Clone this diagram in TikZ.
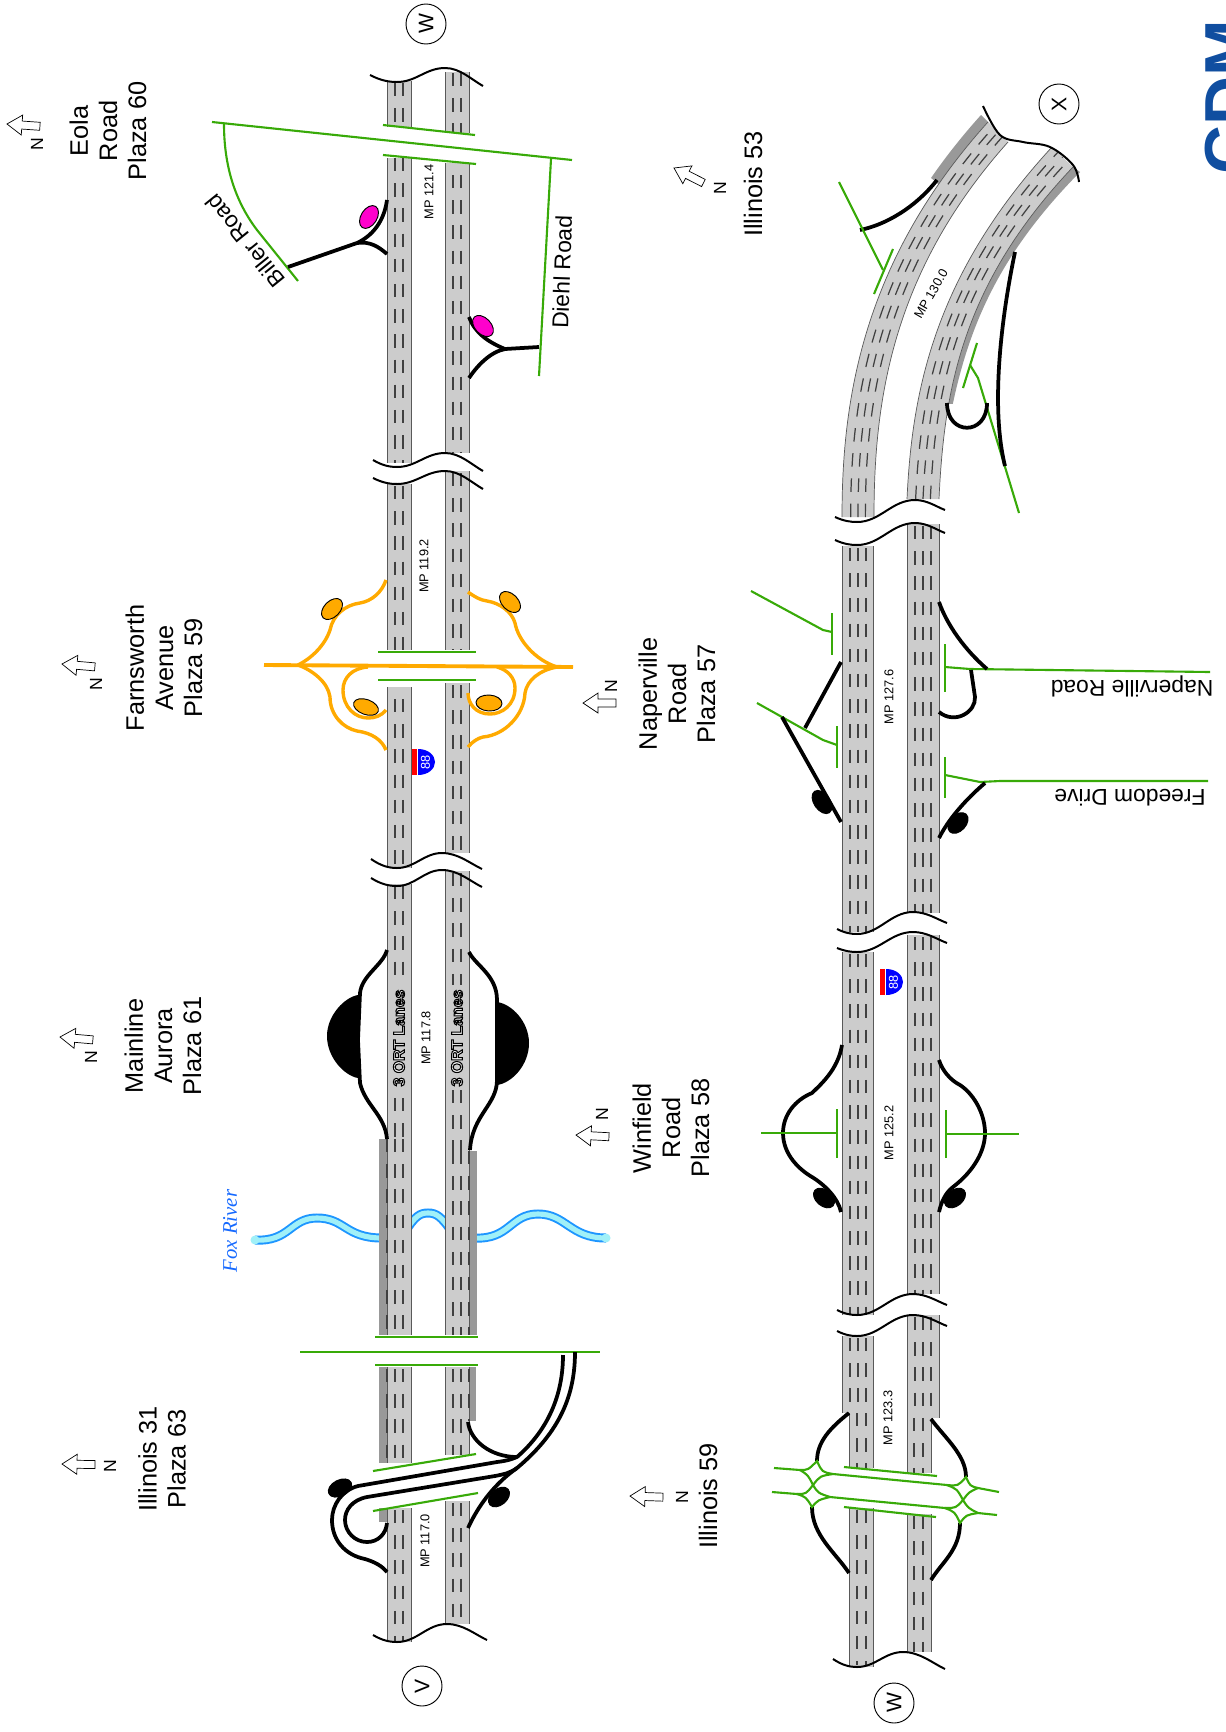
\documentclass[tikz,border=0pt]{standalone}
\usepackage{fontspec}
\setmainfont{Liberation Sans}
\newfontfamily\foxfont{Liberation Serif}
\usetikzlibrary{calc}
\definecolor{roadgray}{RGB}{204,204,204}
\definecolor{shouldergray}{RGB}{153,153,153}
\definecolor{grn}{RGB}{56,170,8}
\definecolor{org}{RGB}{255,170,0}
\definecolor{pnk}{RGB}{255,0,204}
\definecolor{rvblue}{RGB}{30,150,255}
\definecolor{rvcyan}{RGB}{160,240,248}
\definecolor{logoblue}{RGB}{16,78,160}
\tikzset{
  edge/.style={line width=0.6pt,draw=black!65},
  lane/.style={line width=1.05pt,draw=black!75,dash pattern=on 11.5pt off 10pt},
  brk/.style={line width=1.7pt,black},
  ramp/.style={line width=3.2pt,black,line join=round},
  oramp/.style={line width=2.9pt,org,line join=round},
  gline/.style={line width=1.8pt,grn},
  gthick/.style={line width=2.2pt,grn},
  lab/.style={font=\fontsize{21.6pt}{24.8pt}\selectfont,align=center,inner sep=0pt},
  rdlab/.style={font=\fontsize{19.5pt}{22pt}\selectfont,inner sep=0pt},
  mp/.style={font=\fontsize{10.9pt}{12pt}\selectfont,inner sep=0pt},
  nlab/.style={font=\fontsize{15pt}{17pt}\selectfont,inner sep=0pt,rotate=90},
  cnode/.style={circle,draw,line width=0.8pt,minimum size=1.2cm,inner sep=0pt,font=\fontsize{18pt}{20pt}\selectfont,rotate=90},
  ortbase/.style={font=\fontsize{13.5pt}{15pt}\selectfont\bfseries,inner sep=0pt,rotate=90,text=white},
}
\newcommand{\roadseg}[4]{%
  \fill[roadgray] (#1,#3) rectangle (#2,#4);
  \draw[edge] (#1,#3) -- (#1,#4) (#2,#3) -- (#2,#4);}
\newcommand{\lanes}[3]{%
  \foreach \lx in {#1} {\draw[lane] (\lx,#2) -- (\lx,#3);}}
\newcommand{\dkband}[4]{\fill[shouldergray] (#1,#3) rectangle (#2,#4);}
\newcommand{\wavebr}[8]{%
  \draw[brk] (#1,#2) .. controls ({#1+.4*(#3-#1)},{#2+.8*(#4-#2)}) and ({#3-.3*(#3-#1)},#4) .. (#3,#4)
    .. controls ({#3+.4*(#5-#3)},#4) and ({#5-.4*(#5-#3)},#6) .. (#5,#6)
    .. controls ({#5+.4*(#7-#5)},#6) and ({#7-.3*(#7-#5)},{#8-.35*(#8-#6)}) .. (#7,#8);}
\newcommand{\ovalshape}[6]{%
  \draw[#1,line width=0.8pt,shift={(#2,#3)},rotate=#6] (0,0) ellipse [x radius=#4*0.8536pt,y radius=#5*0.8536pt];}
\newcommand{\narrow}[3]{%
  \draw[line width=0.6pt,fill=white,shift={(#1,#2)},rotate=#3]
    (0,0) -- (15,10) -- (15,4) -- (33,4) -- (33,-4) -- (15,-4) -- (15,-10) -- cycle;}
\newcommand{\shield}[3]{%
  \fill[red] (#1-6,#2-13) rectangle (#1-1,#2+13);
  \fill[blue] (#1,#2-13) .. controls (#1+10,#2-13) and (#1+17,#2-7) .. (#1+17,#2)
     .. controls (#1+17,#2+7) and (#1+10,#2+13) .. (#1,#2+13) -- cycle;
  \node[mp,white,rotate=90] (#3) at (#1+7.5,#2) {88};}
% outlined text: white fill, black stroke, through the PDF text render mode
\newcommand{\outlinedtext}[1]{\special{pdf:code q 2 Tr 0.9 w 0 0 0 RG}#1\special{pdf:code Q}}
\newcommand{\ortlabel}[3]{%
  \node[ortbase] (#3) at (#1,#2) {\outlinedtext{3 ORT Lanes}};}
\begin{document}
\begin{tikzpicture}[x=0.03cm,y=-0.03cm]
\useasboundingbox (0,0) rectangle (1225,1732);
\fill[white] (0,0) rectangle (1225,1732);

%% Fox River
\foreach \c/\w in {rvblue/7.7pt,rvcyan/4.4pt}{
  \draw[\c,line width=\w] (255,1240) .. controls (290,1242) and (290,1218) .. (317,1218) .. controls (345,1218) and (345,1238) .. (382,1238);
  \draw[\c,line width=\w] (405,1232) .. controls (415,1216) and (420,1213) .. (428,1213) .. controls (436,1213) and (441,1216) .. (452,1232);
  \draw[\c,line width=\w] (474,1238) .. controls (510,1240) and (510,1214) .. (538,1214) .. controls (566,1214) and (570,1238) .. (606,1238);
}
\fill[rvcyan] (255,1240) circle (4.5);
\fill[rvcyan] (606,1238) circle (4.5);

%% Top row, carriageway A
\roadseg{387}{411}{81}{127}   \lanes{395,403}{83}{127}
\roadseg{387}{411}{158}{463}  \lanes{395,403}{158}{463}
\roadseg{387}{411}{484}{650}  \lanes{395,403}{486}{650}
\roadseg{387}{411}{687}{868}  \lanes{395,403}{699}{868}
\roadseg{387}{411}{884}{1139} \lanes{395,403}{886}{985} \lanes{395,403}{1098}{1139}
\dkband{379}{387}{1139}{1335}
\roadseg{387}{411}{1139}{1335} \lanes{387,395,403}{1139}{1335}
\dkband{379}{387}{1367}{1463}
\roadseg{387}{411}{1367}{1463} \lanes{387,395,403}{1369}{1463}
\dkband{379}{387}{1508}{1522}
\roadseg{387}{411}{1508}{1642} \lanes{395,403}{1510}{1642}

%% Top row, carriageway B
\roadseg{445}{469}{72}{133}   \lanes{453,461}{73}{133}
\roadseg{445}{469}{163}{453}  \lanes{453,461}{175}{453}
\roadseg{445}{469}{471}{650}  \lanes{453,461}{473}{650}
\roadseg{445}{469}{683}{853}  \lanes{453,461}{685}{853}
\roadseg{445}{469}{871}{1151} \lanes{453,461}{873}{985} \lanes{453,461}{1090}{1151}
\dkband{469}{477}{1151}{1335}
\roadseg{445}{469}{1151}{1335} \lanes{453,461,469}{1151}{1335}
\dkband{469}{476}{1367}{1421}
\roadseg{445}{469}{1367}{1455} \lanes{453,461}{1369}{1455} \lanes{469}{1369}{1421}
\roadseg{445}{469}{1501}{1624} \lanes{453,461}{1503}{1624}

%% ORT labels
\ortlabel{399}{1038}{orta}
\ortlabel{457}{1038}{ortb}

%% Top row waves
\wavebr{370}{75}{397}{82}{445}{68}{483}{86}
\wavebr{373}{460}{397}{467}{445}{453}{483}{471}
\wavebr{373}{478}{397}{484}{445}{471}{483}{489}
\wavebr{371}{859}{397}{868}{442}{853}{482}{869}
\wavebr{371}{878}{397}{886}{442}{870}{482}{887}
\wavebr{373}{1635}{397}{1642}{447}{1624}{487}{1640}

%% Eola overpass, Biller and Diehl
\draw[gline] (212,122) -- (572,160);
\draw[gline] (383,125) -- (475,135);
\draw[gline] (383,155) -- (476,164);
\draw[gline] (224,124) .. controls (224,160) and (232,197) .. (257,230) -- (298,281);
\draw[gline] (551,159) -- (539,376);
\draw[ramp] (288,267) -- (357,243);
\draw[ramp] (357,243) .. controls (372,236) and (384,222) .. (387,200);
\draw[ramp] (357,243) .. controls (370,241) and (379,247) .. (387,254);
\ovalshape{fill=pnk,draw=black}{369}{217}{12.5}{8}{58}
\draw[ramp] (539,347) -- (505,349);
\draw[ramp] (505,349) .. controls (488,342) and (475,333) .. (469,317);
\draw[ramp] (505,349) .. controls (490,352) and (477,366) .. (469,378);
\ovalshape{fill=pnk,draw=black}{483}{326}{12.5}{8}{-46}

%% Farnsworth
\draw[gline] (378,652) -- (476,652);
\draw[gline] (378,680) -- (476,680);
\draw[oramp,line width=3.3pt] (264,665) -- (573,667);
\draw[oramp] (386,580) .. controls (382,592) and (372,601) .. (360,603) .. controls (345,605) and (333,615) .. (330,630) .. controls (325,645) and (312,658) .. (298,665);
\draw[oramp] (468,592) .. controls (475,597) and (480,600) .. (487,601) .. controls (500,603) and (512,612) .. (515,623) .. controls (518,640) and (535,660) .. (557,667);
\draw[oramp] (298,665) .. controls (312,670) and (328,682) .. (330,697) .. controls (330,715) and (343,728) .. (357,731) .. controls (372,733) and (382,740) .. (386,750);
\draw[oramp] (557,667) .. controls (540,670) and (527,680) .. (525,693) .. controls (524,715) and (505,735) .. (483,737) .. controls (478,738) and (472,742) .. (468,747);
\draw[oramp] (368,667) .. controls (352,668) and (343,678) .. (343,690) .. controls (343,707) and (355,718) .. (368,718) .. controls (375,718) and (381,716) .. (386,710);
\draw[oramp] (497,667) .. controls (508,670) and (515,678) .. (515,688) .. controls (515,705) and (502,714) .. (490,714) .. controls (476,714) and (468,704) .. (468,693);
\ovalshape{fill=org,draw=black}{332}{609}{12.5}{8}{45}
\ovalshape{fill=org,draw=black}{510}{602}{12.5}{8}{-45}
\ovalshape{fill=org,draw=black}{366}{707}{13}{7.5}{-20}
\ovalshape{fill=org,draw=black}{489}{703}{13}{8}{-3}

%% Aurora
\fill (358,995) .. controls (345,997) and (327,1015) .. (327,1036) .. controls (327,1058) and (345,1076) .. (358,1078) -- cycle;
\fill (497,1002) .. controls (512,1004) and (529,1022) .. (529,1043) .. controls (529,1065) and (512,1083) .. (497,1085) -- cycle;
\draw[ramp] (387,950) .. controls (383,965) and (362,975) .. (360,993) -- (358,1040) -- (360,1083) .. controls (365,1105) and (385,1115) .. (387,1139);
\draw[ramp] (469,952) .. controls (475,965) and (497,975) .. (497,1000) -- (497,1080) .. controls (497,1105) and (472,1115) .. (470,1150);

%% Illinois 31
\draw[gline] (375,1337) -- (478,1337);
\draw[gline] (375,1365) -- (478,1365);
\draw[gline] (300,1352) -- (600,1352);
\draw[gline] (373,1471) -- (476,1454);
\draw[gline] (373,1511) -- (478,1493);
\draw[ramp] (575,1352) .. controls (575,1395) and (560,1432) .. (517,1468)
  .. controls (510,1473) and (505,1474) .. (495,1476) -- (367,1497)
  .. controls (352,1500) and (345,1510) .. (345,1520) .. controls (345,1532) and (355,1542) .. (367,1542)
  .. controls (378,1542) and (386,1534) .. (387,1523);
\draw[ramp] (563,1355) .. controls (563,1395) and (548,1430) .. (517,1457)
  .. controls (510,1460) and (505,1461) .. (497,1462) -- (358,1486)
  .. controls (342,1490) and (332,1505) .. (332,1520) .. controls (332,1540) and (345,1555) .. (365,1559)
  .. controls (375,1562) and (382,1566) .. (387,1572);
\draw[ramp] (468,1422) .. controls (470,1440) and (490,1457) .. (517,1457);
\draw[ramp] (517,1468) .. controls (497,1482) and (480,1502) .. (468,1528);
\ovalshape{fill=black,draw=black}{340}{1488}{12.5}{8}{27}
\ovalshape{fill=black,draw=black}{499}{1497}{12}{8}{40}

%% Shields
\shield{418}{762}{shieldtop}
\shield{886}{982}{shieldlow}

%% Lower row, straight
\roadseg{842}{873}{546}{932}  \lanes{850,858,866}{548}{932}
\roadseg{842}{873}{952}{1315} \lanes{850,858,866}{954}{1315}
\roadseg{842}{873}{1336}{1413} \lanes{850,858,866}{1338}{1413}
\roadseg{849}{873}{1413}{1468} \lanes{857,866}{1413}{1468}
\roadseg{849}{873}{1508}{1667} \lanes{857,866}{1510}{1665}
\roadseg{907}{939}{524}{913}  \lanes{915,923,931}{526}{913}
\roadseg{907}{939}{935}{1294} \lanes{915,923,931}{937}{1294}
\roadseg{907}{939}{1315}{1418} \lanes{915,923,931}{1317}{1418}
\roadseg{907}{931}{1418}{1473} \lanes{914,923}{1418}{1473}
\roadseg{907}{931}{1514}{1652} \lanes{914,923}{1516}{1652}

%% Lower row, curved part
\coordinate (cl0) at (842,517); \coordinate (cl1) at (842,405); \coordinate (cl2) at (860,264); \coordinate (cl3) at (988,122);
\coordinate (cr0) at (874,517); \coordinate (cr1) at (874,405); \coordinate (cr2) at (890,274); \coordinate (cr3) at (1008,142);
\coordinate (dl0) at (907,499); \coordinate (dl1) at (912,390); \coordinate (dl2) at (935,274); \coordinate (dl3) at (1052,147);
\coordinate (dr0) at (939,499); \coordinate (dr1) at (944,390); \coordinate (dr2) at (962,284); \coordinate (dr3) at (1073,167);
\begin{scope}
  \clip (930,177) -- (945,190) -- (992,126) -- (978,111) -- cycle;
  \fill[shouldergray] (cl0) .. controls (cl1) and (cl2) .. (cl3) -- ($(cl3)+(-7,-7)$) .. controls ($(cl2)+(-7,-7)$) and ($(cl1)+(-7,-7)$) .. ($(cl0)+(-7,-7)$) -- cycle;
\end{scope}
\begin{scope}
  \clip (900,100) rectangle (1100,403);
  \fill[shouldergray] (953,403) .. controls (970,324) and (1000,253) .. (1080,172) -- (dr3) .. controls (dr2) and (dr1) .. (dr0) -- cycle;
\end{scope}
\fill[roadgray] (cl0) .. controls (cl1) and (cl2) .. (cl3) -- (cr3) .. controls (cr2) and (cr1) .. (cr0) -- cycle;
\draw[edge] (cl0) .. controls (cl1) and (cl2) .. (cl3);
\draw[edge] (cr0) .. controls (cr1) and (cr2) .. (cr3);
\fill[roadgray] (dl0) .. controls (dl1) and (dl2) .. (dl3) -- (dr3) .. controls (dr2) and (dr1) .. (dr0) -- cycle;
\draw[edge] (dl0) .. controls (dl1) and (dl2) .. (dl3);
\draw[edge] (dr0) .. controls (dr1) and (dr2) .. (dr3);
\foreach \f in {.27,.5,.73}{
  \draw[lane] ($(cl0)!\f!(cr0)$) .. controls ($(cl1)!\f!(cr1)$) and ($(cl2)!\f!(cr2)$) .. ($(cl3)!\f!(cr3)$);
  \draw[lane] ($(dl0)!\f!(dr0)$) .. controls ($(dl1)!\f!(dr1)$) and ($(dl2)!\f!(dr2)$) .. ($(dl3)!\f!(dr3)$);
}
\draw[brk] plot[smooth,tension=.6] coordinates {(983,106) (1000,135) (1023,142) (1050,147) (1073,165) (1079,182)};
\wavebr{835}{517}{857}{522}{915}{500}{945}{510}
\wavebr{835}{540}{857}{545}{915}{523}{945}{533}
\wavebr{837}{929}{857}{934}{913}{912}{947}{923}
\wavebr{837}{948}{857}{952}{913}{932}{947}{943}
\wavebr{837}{1310}{857}{1315}{913}{1294}{947}{1305}
\wavebr{837}{1331}{857}{1336}{913}{1315}{947}{1326}
\wavebr{833}{1659}{857}{1667}{903}{1652}{945}{1669}

%% Illinois 53
\draw[ramp] (860,230) .. controls (885,225) and (915,208) .. (937,180);
\draw[gline] (839,182) -- (883,270);
\draw[gline] (893,249) -- (874,294);
\draw[gline] (977,343) -- (963,388);
\draw[gline] (970,365) -- (978,378) -- (1019,513);
\draw[ramp] (947,403) .. controls (947,436) and (987,436) .. (987,403);
\draw[ramp] (1015,252) .. controls (1002,314) and (990,405) .. (1005,466);

%% Naperville
\draw[gline] (832,613) -- (832,655);
\draw[gline] (832,632) -- (823,630) -- (751,591);
\draw[gline] (837,726) -- (837,768);
\draw[gline] (837,745) -- (823,740) -- (757,703);
\draw[ramp] (841,662) -- (805,728);
\draw[ramp] (782,717) -- (841,822);
\ovalshape{fill=black,draw=black}{822}{802}{13}{8}{-55}
\draw[gline] (945,644) -- (945,692);
\draw[gline] (945,667) -- (970,669) -- (1210,672);
\draw[ramp] (939,602) .. controls (947,625) and (965,650) .. (987,669);
\draw[ramp] (971,670) -- (975,697) .. controls (976,712) and (955,725) .. (939,712);
\draw[gline] (945,757) -- (945,798);
\draw[gline] (945,775) -- (980,782) -- (1000,781) -- (1208,781);
\draw[ramp] (985,783) .. controls (965,800) and (948,820) .. (939,838);
\ovalshape{fill=black,draw=black}{958}{823}{12}{8}{47}

%% Winfield
\draw[ramp] (842,1045) .. controls (838,1070) and (820,1085) .. (812,1093) .. controls (795,1100) and (783,1115) .. (783,1133) .. controls (783,1155) and (800,1170) .. (812,1177) .. controls (825,1185) and (838,1198) .. (841,1212);
\draw[ramp] (939,1060) .. controls (942,1070) and (950,1080) .. (960,1085) .. controls (975,1095) and (985,1115) .. (985,1133) .. controls (985,1150) and (975,1170) .. (953,1187) .. controls (945,1193) and (941,1203) .. (939,1212);
\ovalshape{fill=black,draw=black}{824}{1198}{12}{8}{-40}
\ovalshape{fill=black,draw=black}{955}{1198}{12}{8}{40}
\draw[gline] (761,1133) -- (837,1133);
\draw[gthick] (837,1109) -- (837,1158);
\draw[gline] (946,1134) -- (1019,1134);
\draw[gthick] (946,1110) -- (946,1158);

%% Illinois 59
\draw[ramp] (849,1413) .. controls (830,1428) and (817,1442) .. (817,1461);
\draw[ramp] (812,1507) .. controls (812,1535) and (835,1552) .. (849,1573);
\draw[ramp] (931,1419) .. controls (945,1438) and (966,1455) .. (966,1477);
\draw[ramp] (960,1523) .. controls (960,1550) and (942,1562) .. (931,1580);
\draw[gline] (844,1467) -- (937,1476);
\draw[gline] (844,1507) -- (936,1517);
\draw[gline] (774,1468) -- (800,1470) .. controls (808,1470) .. (817,1461) .. controls (822,1472) .. (833,1474) -- (947,1485) .. controls (958,1486) .. (966,1477) .. controls (970,1486) .. (978,1488) -- (999,1492);
\draw[gline] (772,1492) -- (797,1494) .. controls (806,1497) .. (812,1507) .. controls (818,1500) .. (830,1497) -- (945,1508) .. controls (955,1512) .. (960,1523) .. controls (966,1515) .. (978,1513) -- (997,1515);
\draw[gline] (800,1470) .. controls (808,1475) .. (813,1485) .. controls (818,1493) .. (830,1497);
\draw[gline] (797,1494) .. controls (806,1494) .. (813,1485) .. controls (820,1476) .. (833,1474);
\draw[gline] (947,1485) .. controls (957,1489) .. (963,1500) .. controls (968,1508) .. (978,1513);
\draw[gline] (945,1508) .. controls (956,1508) .. (963,1500) .. controls (969,1492) .. (978,1488);

%% Circles
\node[cnode] (cw1) at (426,24) {W};
\node[cnode] (cv) at (422,1686) {V};
\node[cnode] (cw2) at (894,1703) {W};
\node[cnode] (cx) at (1059,104) {X};

%% MP labels
\node[mp,rotate=90] (mp1214) at (429,192) {MP 121.4};
\node[mp,rotate=90] (mp1192) at (424,566) {MP 119.2};
\node[mp,rotate=90] (mp1178) at (426,1038) {MP 117.8};
\node[mp,rotate=90] (mp1170) at (425,1541) {MP 117.0};
\node[mp,rotate=90] (mp1233) at (888,1418) {MP 123.3};
\node[mp,rotate=90] (mp1252) at (889,1133) {MP 125.2};
\node[mp,rotate=90] (mp1276) at (889,697) {MP 127.6};
\node[mp,rotate=60] (mp1300) at (931,294) {MP 130.0};

%% Place labels
\node[lab,rotate=90] (eola) at (108,131) {Eola\\Road\\Plaza 60};
\node[lab,rotate=90] (farn) at (164,668) {Farnsworth\\Avenue\\Plaza 59};
\node[lab,rotate=90] (main) at (163,1046) {Mainline\\Aurora\\Plaza 61};
\node[lab,rotate=90] (il31) at (162,1459) {Illinois 31\\Plaza 63};
\node[lab,rotate=90] (nap) at (677,694) {Naperville\\Road\\Plaza 57};
\node[lab,rotate=90] (win) at (671,1128) {Winfield\\Road\\Plaza 58};
\node[lab,rotate=90] (il53) at (753,184) {Illinois 53};
\node[lab,rotate=90] (il59) at (708,1496) {Illinois 59};
\node[rdlab,rotate=129] (biller) at (245,241) {Biller Road};
\node[rdlab,rotate=88] (diehl) at (562,272) {Diehl Road};
\node[rdlab,rotate=180] (naprd) at (1132,686) {Naperville Road};
\node[rdlab,rotate=180] (freed) at (1130,798) {Freedom Drive};
\node[inner sep=0pt,rotate=90,text=rvblue!70!blue,font=\fontsize{17.7pt}{19pt}\foxfont\itshape] (fox) at (230,1231) {Fox River};

%% North arrows
\narrow{7}{124}{-4}    \node[nlab] (n1) at (37,144) {N};
\narrow{62}{664}{-5}   \node[nlab] (n2) at (96,684) {N};
\narrow{60}{1037}{-5}  \node[nlab] (n3) at (91,1057) {N};
\narrow{62}{1464}{-1}  \node[nlab] (n4) at (110,1466) {N};
\narrow{674}{168}{-27} \node[nlab] (n5) at (720,188) {N};
\narrow{583}{703}{0}   \node[nlab] (n6) at (611,686) {N};
\narrow{576}{1135}{-3} \node[nlab] (n7) at (602,1114) {N};
\narrow{630}{1496}{-2} \node[nlab] (n8) at (682,1497) {N};

%% Logo
\node[anchor=base west,rotate=90,inner sep=0pt,text=logoblue,font=\fontsize{58pt}{60pt}\selectfont\bfseries] (logo) at (1252,175) {CDM};
\end{tikzpicture}
\end{document}
